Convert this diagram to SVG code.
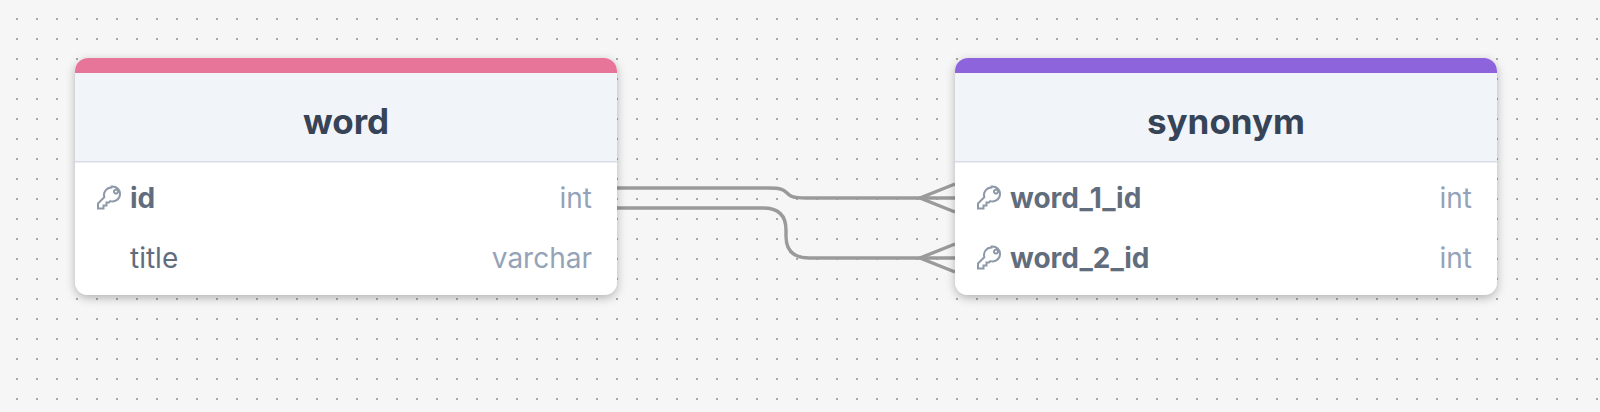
<svg xmlns="http://www.w3.org/2000/svg" width="1600" height="412" viewBox="0 0 1600 412">
<style>
text{font-family:Inter,"Liberation Sans",sans-serif}
.title{font-size:35px;font-weight:700;fill:#374357;text-anchor:middle}
.f{font-size:28px;fill:#616d7c}
.b{font-weight:700}
.t{font-size:28px;fill:#94a3b8;text-anchor:end}
.edge{fill:none;stroke:#9a9a9a;stroke-width:3.4}
.key{fill:none;stroke:#8d99a8;stroke-width:2}
</style>
<defs>
<pattern id="dots" width="20" height="20" patternUnits="userSpaceOnUse"><rect x="16" y="18" width="2" height="2" fill="#a8a8a8"/></pattern>
<filter id="sh" x="-5%" y="-10%" width="110%" height="125%"><feDropShadow dx="0" dy="3" stdDeviation="5" flood-color="#000" flood-opacity="0.28"/></filter>
<clipPath id="c1"><rect x="75" y="58" width="542" height="237" rx="13"/></clipPath>
<clipPath id="c2"><rect x="955" y="58" width="542" height="237" rx="13"/></clipPath>
<g id="k"><path class="key" d="M14.5 1.5a7.5 7.5 0 0 0-7.2 9.6L1 17.5v5h5.5v-3h3v-3h2.5l1.3-1.4a7.5 7.5 0 1 0 1.2-14.600zM17 5.500a2 2 0 1 1 0 .1z" transform="translate(0 0)"/></g>
</defs>
<rect width="1600" height="412" fill="#f6f6f6"/>
<rect width="1600" height="412" fill="url(#dots)"/>
<g id="connectors">
<path class="edge" d="M617 188H768C782 188 784 190 787 193C790 196 792 198 806 198H955"/>
<path class="edge" d="M617 208H763C779 208 786 216 786 230V236C786 250 793 258 809 258H955"/>
<path class="edge" d="M955 184L920 198L955 212M955 244L920 258L955 272"/>
</g>
<g id="word">
<rect x="75" y="58" width="542" height="237" rx="13" fill="#fff" filter="url(#sh)"/>
<g clip-path="url(#c1)">
<rect x="75" y="73" width="542" height="88" fill="#f1f5f9"/>
<rect x="75" y="58" width="542" height="15" fill="#e7759a"/>
<rect x="75" y="161" width="542" height="1.500" fill="#d8dee8"/>
</g>
<text class="title" x="346" y="134">word</text>
<use href="#k" x="97" y="186"/>
<text class="f b" x="130" y="208">id</text>
<text class="t" x="592" y="208">int</text>
<text class="f" x="130" y="268">title</text>
<text class="t" x="592" y="268">varchar</text>
</g>
<g id="synonym">
<rect x="955" y="58" width="542" height="237" rx="13" fill="#fff" filter="url(#sh)"/>
<g clip-path="url(#c2)">
<rect x="955" y="73" width="542" height="88" fill="#f1f5f9"/>
<rect x="955" y="58" width="542" height="15" fill="#8e64dc"/>
<rect x="955" y="161" width="542" height="1.500" fill="#d8dee8"/>
</g>
<text class="title" x="1226" y="134">synonym</text>
<use href="#k" x="977" y="186"/>
<text class="f b" x="1010" y="208">word_1_id</text>
<text class="t" x="1472" y="208">int</text>
<use href="#k" x="977" y="246"/>
<text class="f b" x="1010" y="268">word_2_id</text>
<text class="t" x="1472" y="268">int</text>
</g>
</svg>
